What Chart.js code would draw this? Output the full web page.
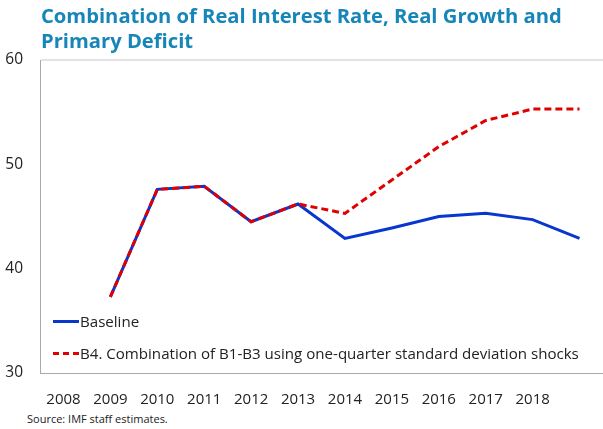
<!DOCTYPE html>
<html>
<head>
<meta charset="utf-8">
<script src="https://cdn.jsdelivr.net/npm/chart.js@4.4.1/dist/chart.umd.min.js"></script>
<style>
    body { margin: 0; background: #fff; font-family: "Open Sans", sans-serif; }
    #wrap { position: relative; width: 603px; height: 429px; overflow: hidden; }
    #title {
        position: absolute; left: 41px; top: 3px;
        font-size: 20.2px; font-weight: 700; line-height: 25px; color: #1685b9;
    }
    #source { position: absolute; left: 27px; top: 411px; font-size: 11px; color: #222; }
    #legend { position: absolute; left: 53px; top: 305px; font-size: 15.1px; color: #222; }
    .item { display: flex; align-items: center; height: 32px; }
    .swatch { width: 26px; height: 0; margin-right: 1px; }
    #chartBox { position: absolute; left: 0; top: 0; width: 603px; height: 410px; }
</style>
</head>
<body>
<div id="wrap">
    <div id="chartBox"><canvas id="debtChart"></canvas></div>
    <div id="title">Combination of Real Interest Rate, Real Growth and<br>Primary Deficit</div>
    <div id="legend"></div>
    <div id="source">Source: IMF staff estimates.</div>
</div>
<script>
// Years on the axis; the last slot has no label
const years = ["2008", "2009", "2010", "2011", "2012", "2013", "2014", "2015", "2016", "2017", "2018", ""];
const baseline = [null, 37.3, 47.6, 47.9, 44.5, 46.2, 42.9, 43.9, 45.0, 45.3, 44.7, 42.9];
const shockB4 = [null, 37.3, 47.6, 47.9, 44.5, 46.2, 45.3, 48.5, 51.7, 54.2, 55.3, 55.3];
const yTicks = [30, 40, 50, 60];

const baselineLabel = "Baseline";
const shockLabel = "B4. Combination of B1-B3 using one-quarter standard deviation shocks";

const blue = "#0a36d0";
const red = "#e00000";

function renderLegend() {
    const legend = document.getElementById('legend');
    legend.innerHTML = `
        <div class="item"><span class="swatch" style="border-top: 3px solid ${blue};"></span>${baselineLabel}</div>
        <div class="item"><span class="swatch" style="border-top: 3px dashed ${red};"></span>${shockLabel}</div>
    `;
}

function renderChart() {
    const ctx = document.getElementById('debtChart').getContext('2d');
    new Chart(ctx, {
        type: 'line',
        data: {
            labels: years,
            datasets: [
                {
                    label: baselineLabel,
                    data: baseline,
                    borderColor: blue,
                    borderWidth: 3,
                    pointRadius: 0,
                    tension: 0,
                    order: 1
                },
                {
                    label: shockLabel,
                    data: shockB4,
                    borderColor: red,
                    borderWidth: 3,
                    borderDash: [7, 4],
                    pointRadius: 0,
                    tension: 0,
                    order: 0
                }
            ]
        },
        options: {
            responsive: true,
            maintainAspectRatio: false,
            animation: false,
            layout: { padding: { top: 60, right: 0, left: 0, bottom: 0 } },
            scales: {
                x: {
                    offset: true,
                    grid: { display: false },
                    border: { color: '#aaaaaa', width: 1 },
                    ticks: { color: '#222', font: { family: 'Open Sans', size: 15 }, padding: 10, maxRotation: 0, autoSkip: false },
                    afterFit: (s) => { s.height = 37; }
                },
                y: {
                    min: 30,
                    max: 60,
                    afterBuildTicks: (s) => { s.ticks = yTicks.map(v => ({ value: v })); },
                    grid: {
                        drawTicks: false,
                        color: (c) => c.tick && c.tick.value === 60 ? '#e2e2e2' : 'rgba(0,0,0,0)',
                        lineWidth: 2
                    },
                    border: { color: '#aaaaaa', width: 1 },
                    ticks: { color: '#222', font: { family: 'Open Sans', size: 15.5 }, padding: 17 },
                    afterFit: (s) => { s.width = 40; }
                }
            },
            plugins: {
                legend: { display: false },
                tooltip: { enabled: false }
            }
        }
    });
}

renderLegend();
renderChart();
</script>
</body>
</html>
